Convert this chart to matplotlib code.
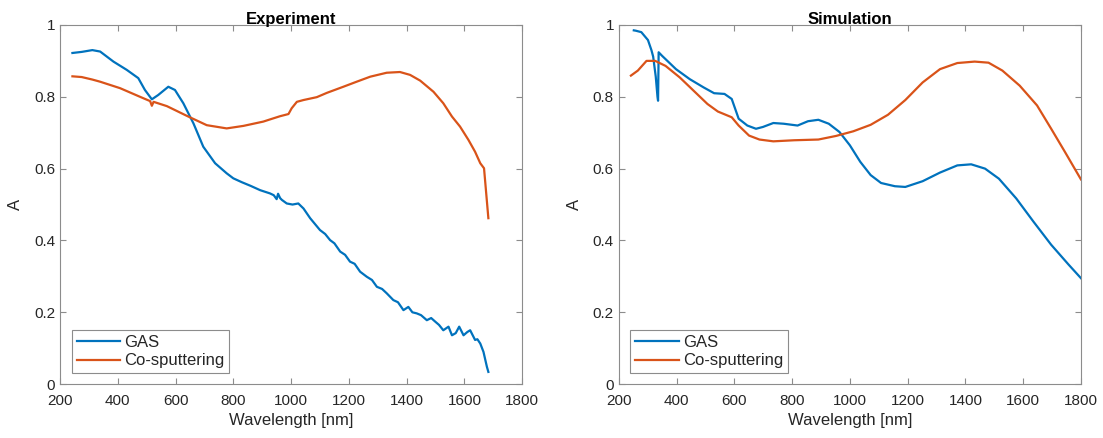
import matplotlib.pyplot as plt

plt.rcParams['font.family'] = ['Liberation Sans', 'DejaVu Sans']
plt.rcParams['font.size'] = 11

blue = '#0072BD'
orange = '#D95319'
grey_txt = '#262626'
grey_box = '#8c8c8c'

# --- Experiment ---
exp_gas_x = [243, 275, 312, 339, 385, 431, 471, 494, 518, 540, 575, 598, 627, 662,
             696, 737, 777, 800, 830, 860, 893, 927, 940, 950, 955, 962, 968, 985,
             1005, 1025, 1043, 1066, 1100, 1118, 1135, 1150, 1170, 1187, 1204, 1220,
             1239, 1262, 1280, 1297, 1315, 1331, 1354, 1370, 1389, 1406, 1420, 1435,
             1450, 1470, 1485, 1499, 1512, 1527, 1545, 1557, 1570, 1582, 1597, 1610,
             1620, 1637, 1645, 1655, 1666, 1678, 1683]
exp_gas_y = [0.922, 0.925, 0.930, 0.926, 0.898, 0.875, 0.852, 0.819, 0.793, 0.805,
             0.828, 0.819, 0.782, 0.726, 0.661, 0.615, 0.587, 0.573, 0.562, 0.552,
             0.540, 0.531, 0.526, 0.515, 0.530, 0.518, 0.513, 0.503, 0.500, 0.503,
             0.489, 0.462, 0.429, 0.418, 0.401, 0.392, 0.369, 0.360, 0.341, 0.335,
             0.313, 0.299, 0.290, 0.271, 0.265, 0.253, 0.234, 0.228, 0.206, 0.215,
             0.200, 0.197, 0.192, 0.178, 0.184, 0.174, 0.165, 0.150, 0.160, 0.136,
             0.142, 0.160, 0.136, 0.145, 0.150, 0.123, 0.125, 0.113, 0.090, 0.048,
             0.034]

exp_co_x = [243, 275, 312, 339, 408, 477, 512, 518, 524, 570, 639, 708, 777, 835,
            904, 927, 962, 991, 1002, 1020, 1043, 1089, 1124, 1181, 1227, 1274,
            1331, 1377, 1412, 1447, 1493, 1527, 1557, 1585, 1614, 1637, 1655, 1668,
            1683]
exp_co_y = [0.857, 0.855, 0.848, 0.842, 0.824, 0.800, 0.788, 0.775, 0.786, 0.774,
            0.747, 0.721, 0.712, 0.719, 0.731, 0.737, 0.746, 0.752, 0.768, 0.786,
            0.791, 0.799, 0.811, 0.828, 0.842, 0.856, 0.867, 0.869, 0.861, 0.845,
            0.814, 0.782, 0.745, 0.717, 0.680, 0.647, 0.615, 0.601, 0.462]

# --- Simulation ---
sim_gas_x = [252, 259, 278, 301, 313, 319, 328, 334, 336, 338, 350, 398, 446, 494,
             530, 566, 591, 615, 645, 675, 699, 735, 771, 819, 855, 891, 927, 964,
             1000, 1036, 1072, 1108, 1156, 1192, 1252, 1312, 1372, 1420, 1468, 1516,
             1576, 1636, 1697, 1757, 1800]
sim_gas_y = [0.985, 0.984, 0.980, 0.958, 0.930, 0.912, 0.856, 0.800, 0.789, 0.924,
             0.914, 0.877, 0.849, 0.826, 0.810, 0.808, 0.794, 0.739, 0.720, 0.711,
             0.716, 0.727, 0.725, 0.720, 0.732, 0.736, 0.725, 0.702, 0.665, 0.619,
             0.582, 0.560, 0.551, 0.549, 0.565, 0.589, 0.609, 0.612, 0.600, 0.572,
             0.517, 0.452, 0.388, 0.333, 0.295]

sim_co_x = [242, 266, 296, 326, 362, 411, 459, 507, 543, 591, 615, 651, 687, 735,
            807, 891, 952, 1012, 1072, 1132, 1192, 1252, 1312, 1372, 1432, 1480,
            1528, 1588, 1648, 1697, 1745, 1800]
sim_co_y = [0.859, 0.873, 0.900, 0.900, 0.886, 0.854, 0.817, 0.780, 0.759, 0.743,
            0.720, 0.692, 0.681, 0.676, 0.679, 0.681, 0.691, 0.704, 0.722, 0.750,
            0.791, 0.840, 0.877, 0.894, 0.898, 0.895, 0.873, 0.831, 0.776, 0.711,
            0.646, 0.570]

fig = plt.figure(figsize=(11.03, 4.38), dpi=100)
ax1 = fig.add_axes([0.0544, 0.123, 0.419, 0.820])
ax2 = fig.add_axes([0.561, 0.123, 0.419, 0.820])

panels = [(ax1, 'Experiment', exp_gas_x, exp_gas_y, exp_co_x, exp_co_y),
          (ax2, 'Simulation', sim_gas_x, sim_gas_y, sim_co_x, sim_co_y)]

for ax, title, gx, gy, cx, cy in panels:
    ax.plot(gx, gy, color=blue, lw=1.6, label='GAS')
    ax.plot(cx, cy, color=orange, lw=1.6, label='Co-sputtering')
    ax.set_xlim(200, 1800)
    ax.set_ylim(0, 1)
    ax.set_xticks(range(200, 1801, 200))
    ax.set_yticks([0, 0.2, 0.4, 0.6, 0.8, 1])
    ax.set_yticklabels(['0', '0.2', '0.4', '0.6', '0.8', '1'])
    ax.tick_params(direction='in', top=True, right=True, length=4,
                   color=grey_box, labelcolor=grey_txt, labelsize=11)
    ax.tick_params(axis='x', pad=7)
    for s in ax.spines.values():
        s.set_color(grey_box)
        s.set_linewidth(0.8)
    ax.set_title(title, fontsize=12, fontweight='bold', pad=1)
    ax.set_xlabel('Wavelength [nm]', fontsize=12, color=grey_txt, labelpad=4)
    ax.set_ylabel('A', fontsize=12, color=grey_txt, labelpad=8)
    leg = ax.legend(loc='lower left', bbox_to_anchor=(0.025, 0.03), fontsize=12,
                    fancybox=False, edgecolor=grey_box, framealpha=1,
                    handlelength=2.6, handletextpad=0.25, borderpad=0.3,
                    labelspacing=0.2, borderaxespad=0)
    leg.get_frame().set_linewidth(0.8)
    for t in leg.get_texts():
        t.set_color(grey_txt)

fig.savefig('out.png', dpi=100)
